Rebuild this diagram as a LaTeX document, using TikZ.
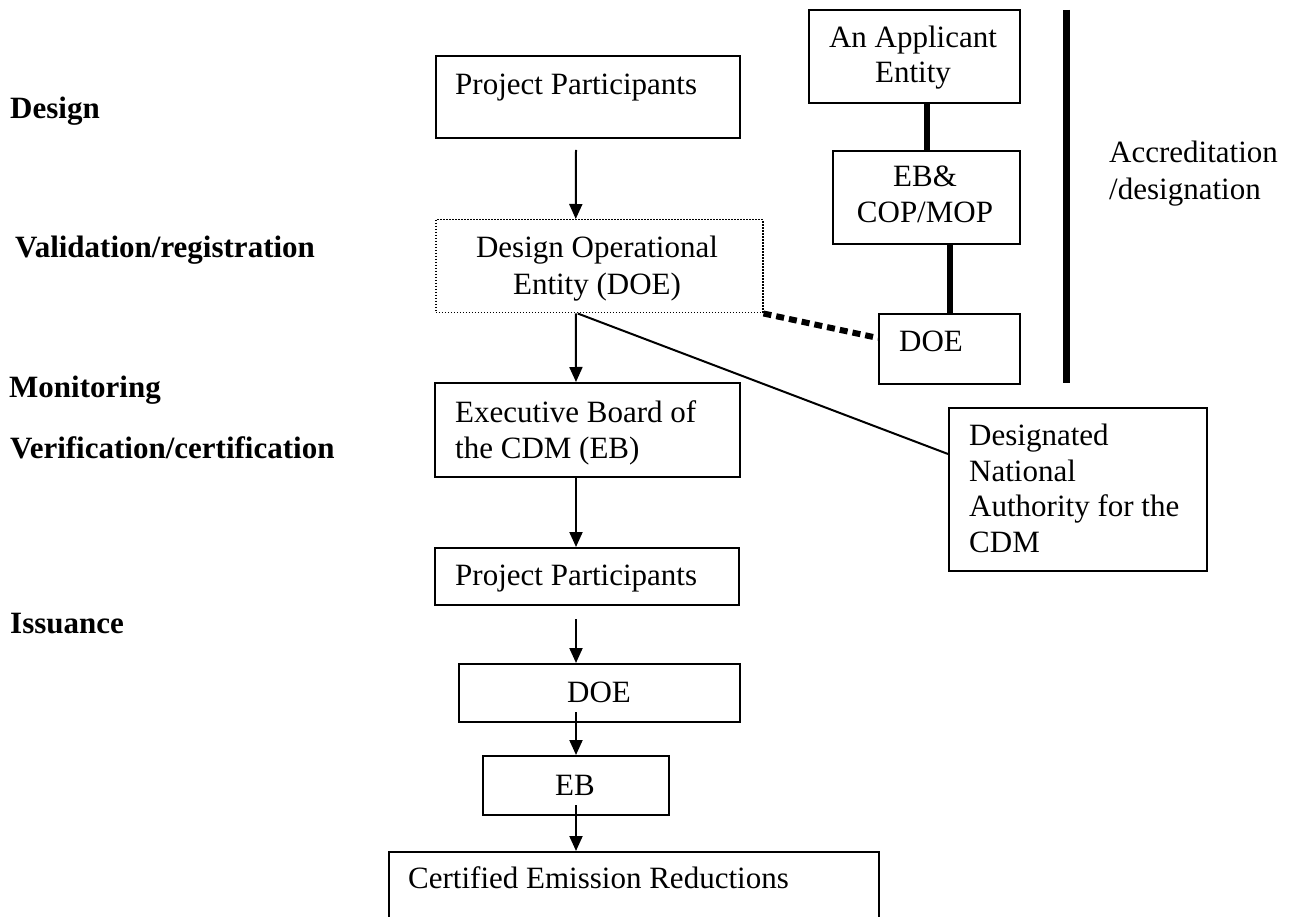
\documentclass[tikz,border=0pt]{standalone}
\usepackage{fontspec}
\setmainfont{Liberation Serif}
\usetikzlibrary{arrows.meta}

\tikzset{
  box/.style={draw, line width=2pt, inner sep=0pt, anchor=north west},
  dotbox/.style={box, line width=1.5pt, dash pattern=on 1.5pt off 1.5pt},
  txt/.style={inner sep=0pt, font=\fontsize{31}{36}\selectfont},
  lbl/.style={txt, anchor=base west, font=\fontsize{31}{36}\selectfont\bfseries},
  arr/.style={line width=2pt, -{Triangle[length=15pt,width=13pt]}},
  link/.style={line width=6pt},
  dlink/.style={line width=6pt, dash pattern=on 8pt off 5pt},
  thin/.style={line width=2pt}
}

\begin{document}
\begin{tikzpicture}[x=1pt, y=-1pt]
\useasboundingbox (0,0) rectangle (1294,917);

% stage labels
\node[lbl] (sDesign) at (10,119) {Design};
\node[lbl] (sValid)  at (15,258) {Validation/registration};
\node[lbl] (sMonit)  at (9,398)  {Monitoring};
\node[lbl] (sVerif)  at (10,458) {Verification/certification};
\node[lbl] (sIssue)  at (10,633) {Issuance};

% main chain boxes
\node[box, minimum width=304pt, minimum height=82pt] (pp1) at (435,55) {};
\node[dotbox, minimum width=327pt, minimum height=93pt] (doe1) at (435,219) {};
\node[box, minimum width=305pt, minimum height=94pt] (eb1) at (434,382) {};
\node[box, minimum width=304pt, minimum height=57pt] (pp2) at (434,547) {};
\node[box, minimum width=281pt, minimum height=58pt] (doe2) at (458,663) {};
\node[box, minimum width=186pt, minimum height=59pt] (eb2) at (482,755) {};
\node[box, minimum width=490pt, minimum height=90pt] (cer) at (388,851) {};

% accreditation boxes
\node[box, minimum width=211pt, minimum height=93pt] (app) at (808,9) {};
\node[box, minimum width=187pt, minimum height=93pt] (ebcop) at (832,150) {};
\node[box, minimum width=141pt, minimum height=70pt] (doeR) at (878,313) {};
\node[box, minimum width=258pt, minimum height=163pt] (dna) at (948,407) {};

% box texts
\node[txt, anchor=base west] (tpp1) at (455,95) {Project Participants};
\node[txt, anchor=base] (tdoe1a) at (597,258) {Design Operational};
\node[txt, anchor=base] (tdoe1b) at (597,295) {Entity (DOE)};
\node[txt, anchor=base west] (teb1a) at (455,422) {Executive Board of};
\node[txt, anchor=base west] (teb1b) at (455,458) {the CDM (EB)};
\node[txt, anchor=base west] (tpp2) at (455,585) {Project Participants};
\node[txt, anchor=base west] (tdoe2) at (567,702) {DOE};
\node[txt, anchor=base west] (teb2) at (555,795) {EB};
\node[txt, anchor=base west] (tcer) at (408,888) {Certified Emission Reductions};

\node[txt, anchor=base] (tappa) at (913,48) {An Applicant};
\node[txt, anchor=base] (tappb) at (913,83) {Entity};
\node[txt, anchor=base] (tebca) at (925,187) {EB\&};
\node[txt, anchor=base] (tebcb) at (925,223) {COP/MOP};
\node[txt, anchor=base west] (tdoeR) at (899,352) {DOE};
\node[txt, anchor=base west] (tdnaa) at (969,445) {Designated};
\node[txt, anchor=base west] (tdnab) at (969,481) {National};
\node[txt, anchor=base west] (tdnac) at (969,516) {Authority for the};
\node[txt, anchor=base west] (tdnad) at (969,552) {CDM};
\node[txt, anchor=base west] (tacca) at (1109,163) {Accreditation};
\node[txt, anchor=base west] (taccb) at (1109,200) {/designation};

% flow arrows
\draw[arr] ([xshift=-12pt,yshift=-11pt]pp1.south) -- ([xshift=-23.5pt]doe1.north);
\draw[arr] ([xshift=-23.5pt]doe1.south) -- ([xshift=-11.5pt]eb1.north);
\draw[arr] ([xshift=-11.5pt]eb1.south) -- ([xshift=-11pt]pp2.north);
\draw[arr] ([xshift=-11pt,yshift=-13pt]pp2.south) -- ([xshift=-23.5pt]doe2.north);
\draw[arr] ([xshift=-23.5pt,yshift=11pt]doe2.south) -- (eb2.north);
\draw[arr] ([yshift=11pt]eb2.south) -- ([xshift=-58pt]cer.north);

% accreditation chain
\draw[link] ([xshift=12.5pt]app.south) -- ([xshift=12.5pt]app.south |- ebcop.north);
\draw[link] ([xshift=23.5pt]ebcop.south) -- ([xshift=23.5pt]ebcop.south |- doeR.north);
\draw[line width=7pt] (1066,10) -- (1066,383);

% links from the DOE
\draw[dlink] (doe1.south east) -- ([yshift=11pt]doeR.west);
\draw[thin] ([xshift=-21.5pt]doe1.south) -- ([yshift=35.5pt]dna.west);
\end{tikzpicture}
\end{document}
